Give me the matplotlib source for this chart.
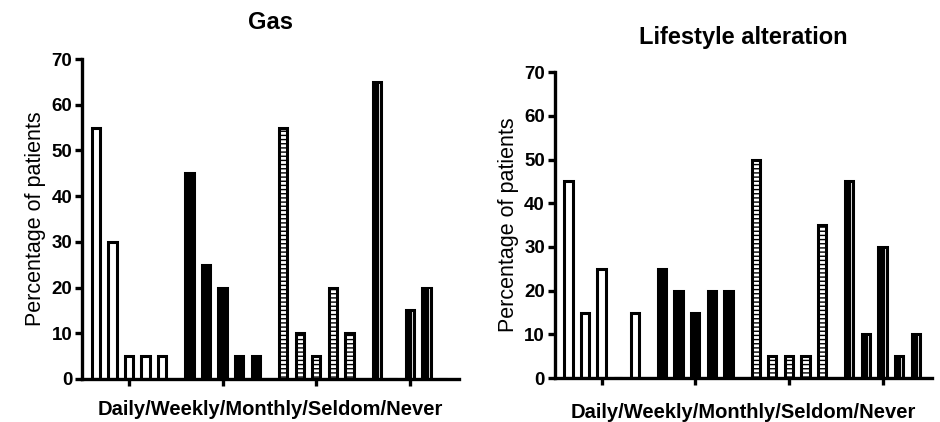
import numpy as np
import matplotlib.pyplot as plt

plt.rcParams['font.family'] = ['Liberation Sans', 'DejaVu Sans']
plt.rcParams['hatch.linewidth'] = 1.0

freq = ['Daily', 'Weekly', 'Monthly', 'Seldom', 'Never']

# five bars per group, one group per patient cohort
gas = [
    [55, 30, 5, 5, 5],
    [45, 25, 20, 5, 5],
    [55, 10, 5, 20, 10],
    [65, 0, 15, 20, 0],
]
lifestyle = [
    [45, 15, 25, 0, 15],
    [25, 20, 15, 20, 20],
    [50, 5, 5, 5, 35],
    [45, 10, 30, 5, 10],
]

GAP = 5.64   # distance between group centres, in bar slots
W = 0.5
LW = 2.2


def draw(ax, data, title, title_pad, label_pad):
    centers = np.arange(len(data)) * GAP
    for g, vals in enumerate(data):
        vals = np.asarray(vals, dtype=float)
        x = centers[g] + np.arange(len(vals)) - 2
        if g == 0:
            ax.bar(x, vals, W, facecolor='white', edgecolor='black', linewidth=LW, zorder=2)
        elif g == 1:
            ax.bar(x, vals, W, facecolor='black', edgecolor='black', linewidth=LW, zorder=2)
        elif g == 2:
            ax.bar(x, vals, W, facecolor='white', edgecolor='black', linewidth=LW,
                   hatch='----', zorder=2)
        else:
            ax.bar(x, vals, W, facecolor='black', edgecolor='black', linewidth=LW, zorder=2)
            # thin light stripe near the right edge
            ax.bar(x + 0.15, np.maximum(vals - 0.4, 0), 0.06, color='#d0d0d0',
                   linewidth=0, zorder=3)

    ax.set_xlim(-2.83, centers[-1] + 2.95)
    ax.set_ylim(0, 70)
    ax.set_yticks(range(0, 71, 10))
    ax.set_xticks(centers)
    ax.set_xticklabels([])
    for s in ['top', 'right']:
        ax.spines[s].set_visible(False)
    for s in ['left', 'bottom']:
        ax.spines[s].set_linewidth(2.4)
        ax.spines[s].set_zorder(4)
    ax.tick_params(direction='out', length=5, width=2.4, labelsize=13.5, pad=2)
    for lab in ax.get_yticklabels():
        lab.set_fontweight('bold')
    ax.set_ylabel('Percentage of patients', fontsize=15.5, labelpad=4)
    ax.set_xlabel('/'.join(freq), fontsize=14.5, fontweight='bold', labelpad=label_pad)
    ax.set_title(title, fontsize=17, fontweight='bold', pad=title_pad)


fig = plt.figure(figsize=(9.4, 4.22), dpi=100)
ax1 = fig.add_axes([0.0872, 0.102, 0.401, 0.758])
ax2 = fig.add_axes([0.590, 0.104, 0.401, 0.725])

draw(ax1, gas, 'Gas', 22, 8)
draw(ax2, lifestyle, 'Lifestyle alteration', 20.5, 11)

fig.savefig('out.png', dpi=100)
